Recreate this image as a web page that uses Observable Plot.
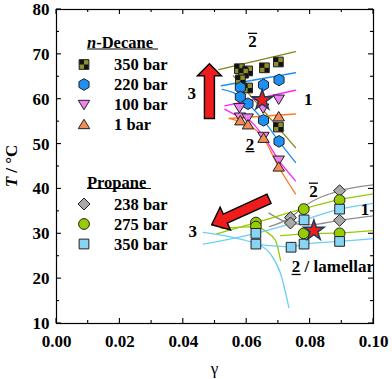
<!DOCTYPE html>
<html><head><meta charset="utf-8">
<script src="https://cdn.jsdelivr.net/npm/d3@7"></script>
<script src="https://cdn.jsdelivr.net/npm/@observablehq/plot@0.6"></script>
<style>body{margin:0;background:#fff}</style>
</head><body><div id="chart"></div>
<script>
// ---- axis ticks ----
const xTicks = [0, 0.02, 0.04, 0.06, 0.08, 0.10];
const xMinorTicks = [0.01, 0.03, 0.05, 0.07, 0.09];
const yTicks = [10, 20, 30, 40, 50, 60, 70, 80];
const yMinorTicks = [15, 25, 35, 45, 55, 65, 75];

// ---- n-Decane data [gamma, T] ----
const decane350 = [[0.0577,66.8],[0.0603,66.3],[0.0590,65.8],[0.0656,67.0],[0.0700,68.3],[0.0580,64.3],[0.0603,62.5],[0.0700,53.8]];
const decane220 = [[0.0580,62.6],[0.0653,63.2],[0.0702,64.3],[0.0580,60.5],[0.0604,59.0],[0.0653,55.3],[0.0702,50.6]];
const decane100 = [[0.0577,58.1],[0.0652,58.0],[0.0701,60.0],[0.0579,56.0],[0.0603,55.8],[0.0653,51.7],[0.0701,46.4]];
const decane1   = [[0.0580,55.2],[0.0604,54.3],[0.0653,51.3],[0.0701,56.1],[0.0701,44.9]];

// ---- Propane data ----
const propane238 = [[0.0893,39.6],[0.0893,33.0],[0.0738,33.6],[0.0738,32.4]];
const propane275 = [[0.0629,32.5],[0.0629,31.6],[0.0780,35.5],[0.0780,30.1],[0.0893,37.5],[0.0893,30.1]];
const propane350 = [[0.0629,30.1],[0.0629,27.7],[0.0740,27.0],[0.0781,33.1],[0.0781,27.7],[0.0893,35.5],[0.0893,28.3]];

// ---- X-points (stars) ----
const xPoints = [[0.0649,59.8],[0.0812,30.7]];

// ---- phase boundary lines ----
const decane350Upper = [[0.0512,66.6],[0.0754,70.6]];
const decane350Lower = [[0.0558,65.2],[0.0754,49.2]];
const decane220Upper = [[0.0520,63.0],[0.0754,65.9]];
const decane220Lower = [[0.0523,62.2],[0.0580,60.6],[0.0604,59.0],[0.0653,55.3],[0.0702,50.6],[0.0754,45.9]];
const decane100Upper = [[0.0531,58.5],[0.0754,62.0]];
const decane100Lower = [[0.0531,57.8],[0.0578,56.1],[0.0603,55.6],[0.0653,51.7],[0.0701,46.4],[0.0754,41.8]];
const decane1Upper   = [[0.0544,55.7],[0.0754,56.7]];
const decane1Lower   = [[0.0550,55.6],[0.0580,55.0],[0.0604,54.3],[0.0653,51.3],[0.0701,44.9],[0.0754,38.9]];

const propane238A = [[0.0672,31.6],[0.0738,33.6],[0.0785,36.3],[0.0893,39.6],[0.1,40.9]];
const propane238B = [[0.0670,34.6],[0.0741,32.3],[0.0800,32.0],[0.0893,33.0],[0.1,34.0]];
const propane275A = [[0.0505,30.0],[0.0629,32.5],[0.0780,35.6],[0.0893,37.6],[0.1,38.9]];
const propane275B = [[0.0520,31.2],[0.0629,31.6],[0.0665,30.3],[0.0691,28.5],[0.0707,24.0]];
const propane275C = [[0.0707,29.6],[0.0780,30.0],[0.0893,30.2],[0.1,30.7]];
const propane350A = [[0.0463,27.7],[0.0629,30.1],[0.0781,33.1],[0.0893,35.5],[0.1,36.8]];
const propane350B = [[0.0463,30.3],[0.0629,27.8],[0.0644,27.4],[0.0675,25.5],[0.0707,21.1],[0.0733,13.6]];
const propane350C = [[0.0629,27.7],[0.0740,27.1],[0.0781,27.7],[0.0893,28.3],[0.1,28.9]];

// ---- arrows (tail -> tip) ----
const arrowTails = [[0.0484,55.6],[0.0672,37.7]];
const arrowTips  = [[0.0484,67.8],[0.0491,31.9]];

// ---- region labels ----
const labelTexts = ["2","3","1","2","2","1","3","2"];
const labelPos   = [[0.0620,72.9],[0.0428,61.3],[0.0796,60.0],[0.0612,50.0],[0.0812,39.5],[0.0975,35.4],[0.0431,30.4],[0.0744,22.6]];
const labelDeco  = ["over","","","under","over","","","under"];
const lamellarSuffix = " / lamellar";

// ---- legends ----
const decaneLegend = ["350 bar","220 bar","100 bar","1 bar"];
const propaneLegend = ["238 bar","275 bar","350 bar"];

// ---- symbols ----
const hexagon = {draw(c, s){const r=Math.sqrt(s/Math.PI)*1.12;for(let i=0;i<6;i++){const a=Math.PI/3*i-Math.PI/2;const px=r*Math.cos(a),py=r*Math.sin(a);i?c.lineTo(px,py):c.moveTo(px,py);}c.closePath();}};
const triDown = {draw(c, s){const r=Math.sqrt(s/Math.PI);c.moveTo(-r*1.1,-r*0.8);c.lineTo(r*1.1,-r*0.8);c.lineTo(0,r*1.0);c.closePath();}};
const triUp   = {draw(c, s){const r=Math.sqrt(s/Math.PI);c.moveTo(-r*1.1,r*0.8);c.lineTo(r*1.1,r*0.8);c.lineTo(0,-r*1.0);c.closePath();}};
const square  = {draw(c, s){const h=Math.sqrt(s/Math.PI)*0.9;c.rect(-h,-h,2*h,2*h);}};
const rhombus = {draw(c, s){const r=Math.sqrt(s/Math.PI)*1.15;c.moveTo(0,-r);c.lineTo(r,0);c.lineTo(0,r);c.lineTo(-r,0);c.closePath();}};

const FONT = "'Liberation Serif','Times New Roman',serif";
const C = {
  olive:"#85851a", oliveFill:"url(#checker)", blue:"#1e8ff5", magenta:"#ff22ff", violet:"#ee82ee",
  orange:"#ff7a1e", orangeFill:"#f58b55", gray:"#8e8e8e", grayFill:"#a9a9a9", green:"#94cc00",
  greenFill:"#99cc00", lblue:"#6ccff5", lblueFill:"#87d4f5", red:"#ee1c1c"
};

const decaneSeries = [
  {data: decane350, symbol: square, fill: C.oliveFill, r: 5.4},
  {data: decane220, symbol: hexagon, fill: C.blue, r: 5.2},
  {data: decane100, symbol: triDown, fill: C.violet, r: 5.2},
  {data: decane1, symbol: triUp, fill: C.orangeFill, r: 5.2}
];
const propaneSeries = [
  {data: propane238, symbol: rhombus, fill: C.grayFill, r: 5.2},
  {data: propane275, symbol: "circle", fill: C.greenFill, r: 5.4},
  {data: propane350, symbol: square, fill: C.lblueFill, r: 5.4}
];

function frameTicks(index, {x, y}, values, dims) {
  const L = dims.marginLeft, R = dims.width - dims.marginRight, T = dims.marginTop, B = dims.height - dims.marginBottom;
  const g = d3.create("svg:g").attr("stroke", "black").attr("stroke-width", 1.1);
  const seg = (a,b,c,d) => g.append("line").attr("x1",a).attr("y1",b).attr("x2",c).attr("y2",d);
  for (const v of xTicks) { const p = x(v); seg(p,B,p,B-5); seg(p,T,p,T+5); }
  for (const v of xMinorTicks) { const p = x(v); seg(p,B,p,B-3); seg(p,T,p,T+3); }
  for (const v of yTicks) { const p = y(v); seg(L,p,L+5,p); seg(R,p,R-5,p); }
  for (const v of yMinorTicks) { const p = y(v); seg(L,p,L+3,p); seg(R,p,R-3,p); }
  return g.node();
}

function blockArrows(index, {x, y}) {
  const sizes = [{shaft: 10, head: 24, headLen: 12}, {shaft: 10, head: 25, headLen: 15}];
  const g = d3.create("svg:g");
  arrowTails.forEach((t, i) => {
    const x1 = x(t[0]), y1 = y(t[1]), x2 = x(arrowTips[i][0]), y2 = y(arrowTips[i][1]);
    const dx = x2-x1, dy = y2-y1, len = Math.hypot(dx,dy), ux = dx/len, uy = dy/len, nx = -uy, ny = ux;
    const {shaft, head, headLen} = sizes[i];
    const sw = shaft/2, hw = head/2, bx = x2-ux*headLen, by = y2-uy*headLen;
    const pts = [[x1+nx*sw,y1+ny*sw],[bx+nx*sw,by+ny*sw],[bx+nx*hw,by+ny*hw],[x2,y2],[bx-nx*hw,by-ny*hw],[bx-nx*sw,by-ny*sw],[x1-nx*sw,y1-ny*sw]];
    g.append("path").attr("d","M"+pts.map(p=>p.join(",")).join("L")+"Z")
      .attr("fill", C.red).attr("stroke","black").attr("stroke-width",1.4).attr("stroke-linejoin","miter");
  });
  return g.node();
}

function regionLabels(index, {x, y}) {
  const g = d3.create("svg:g").attr("font-family", FONT).attr("font-weight","bold").attr("font-size", 17).attr("fill","black");
  labelTexts.forEach((t, i) => {
    const px = x(labelPos[i][0]), py = y(labelPos[i][1]);
    const last = i === labelTexts.length - 1;
    g.append("text").attr("x", px).attr("y", py).attr("dy","0.35em").attr("text-anchor", last ? "start" : "middle").text(last ? t + lamellarSuffix : t);
    const cx = last ? px + 4.3 : px;
    if (labelDeco[i] === "over") g.append("line").attr("x1",cx-4.5).attr("x2",cx+4.5).attr("y1",py-7.5).attr("y2",py-7.5).attr("stroke","black").attr("stroke-width",1.3);
    if (labelDeco[i] === "under") g.append("line").attr("x1",cx-4.5).attr("x2",cx+4.5).attr("y1",py+8).attr("y2",py+8).attr("stroke","black").attr("stroke-width",1.3);
  });
  return g.node();
}

function legends() {
  const g = d3.create("svg:g").attr("font-family", FONT).attr("font-weight","bold").attr("font-size", 16.5).attr("text-anchor","start");
  const defs = g.append("defs");
  const pat = defs.append("pattern").attr("id","checker").attr("patternUnits","objectBoundingBox").attr("patternContentUnits","objectBoundingBox").attr("width",1).attr("height",1);
  pat.append("rect").attr("width",1).attr("height",1).attr("fill","#8e8e2a");
  pat.append("rect").attr("width",0.5).attr("height",0.5).attr("fill","#111");
  pat.append("rect").attr("x",0.5).attr("y",0.5).attr("width",0.5).attr("height",0.5).attr("fill","#111");
  const block = (title, italicN, items, series, y0) => {
    const h = g.append("text").attr("x", 87).attr("y", y0 - 22).attr("dy","0.35em");
    if (italicN) { h.append("tspan").attr("font-style","italic").text("n"); h.append("tspan").text(title); }
    else h.text(title);
    g.append("line").attr("x1",87).attr("x2", italicN ? 158 : 151).attr("y1", y0-15.5).attr("y2", y0-15.5).attr("stroke","black").attr("stroke-width",1.2);
    items.forEach((t, i) => {
      const yy = y0 + i*20, s = series[i];
      g.append("path").attr("transform",`translate(84,${yy})`)
        .attr("d", d3.symbol().type(s.symbol === "circle" ? d3.symbolCircle : s.symbol).size(Math.PI*s.r*s.r)())
        .attr("fill", s.fill).attr("stroke","#222").attr("stroke-width",1);
      g.append("text").attr("x",114).attr("y",yy).attr("dy","0.35em").text(t);
    });
  };
  block("-Decane", true, decaneLegend, decaneSeries, 64.5);
  block("Propane", false, propaneLegend, propaneSeries, 204);
  return g.node();
}

function axisTitles(index, scales, values, dims) {
  const g = d3.create("svg:g").attr("font-family", FONT).attr("font-weight","bold").attr("font-size", 17);
  const L = dims.marginLeft, R = dims.width - dims.marginRight, T = dims.marginTop, B = dims.height - dims.marginBottom;
  const t = g.append("text").attr("transform", `translate(11,${(T+B)/2}) rotate(-90)`).attr("text-anchor","middle").attr("dy","0.35em");
  t.append("tspan").attr("font-style","italic").text("T");
  t.append("tspan").text(" / °C");
  g.append("text").attr("x", (L+R)/2).attr("y", 368).attr("text-anchor","middle").attr("dy","0.35em").attr("font-weight","normal").text("γ");
  return g.node();
}

const lineMark = (data, stroke) => Plot.line(data, {x: d => d[0], y: d => d[1], stroke, strokeWidth: 1.3, curve: "monotone-x"});
const dotMark = (s) => Plot.dot(s.data, {x: d => d[0], y: d => d[1], symbol: s.symbol, r: s.r, fill: s.fill, stroke: "#222", strokeWidth: 1});

const chart = Plot.plot({
  width: 392, height: 379,
  marginLeft: 56, marginRight: 19, marginTop: 9, marginBottom: 56,
  x: {domain: [0, 0.1]},
  y: {domain: [10, 80]},
  style: {fontFamily: FONT, fontWeight: "bold", fontSize: "17px", background: "white", color: "black"},
  marks: [
    Plot.axisX({ticks: xTicks, tickFormat: d3.format(".2f"), tickSize: 0, tickPadding: 11, label: null}),
    Plot.axisY({ticks: yTicks, tickSize: 0, tickPadding: 7, label: null}),
    lineMark(decane350Upper, C.olive), lineMark(decane350Lower, C.olive),
    lineMark(decane220Upper, C.blue), lineMark(decane220Lower, C.blue),
    lineMark(decane100Upper, C.magenta), lineMark(decane100Lower, C.magenta),
    lineMark(decane1Upper, C.orange), lineMark(decane1Lower, C.orange),
    lineMark(propane238A, C.gray), lineMark(propane238B, C.gray),
    lineMark(propane275A, C.green), lineMark(propane275B, C.green), lineMark(propane275C, C.green),
    lineMark(propane350A, C.lblue), lineMark(propane350B, C.lblue), lineMark(propane350C, C.lblue),
    blockArrows,
    ...decaneSeries.map(dotMark),
    ...propaneSeries.map(dotMark),
    Plot.dot(xPoints, {x: d => d[0], y: d => d[1], symbol: "star", r: 6.4, fill: C.red, stroke: "#1d3b55", strokeWidth: 1.5}),
    regionLabels,
    legends,
    axisTitles,
    Plot.frame({stroke: "black", strokeWidth: 1.2}),
    frameTicks
  ]
});
document.getElementById("chart").appendChild(chart);
</script></body></html>
